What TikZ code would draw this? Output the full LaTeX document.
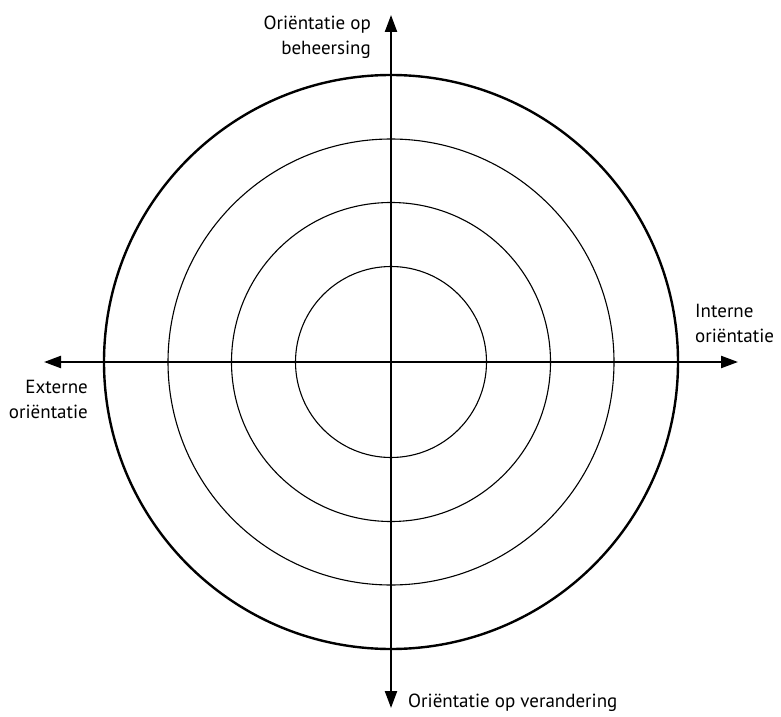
\documentclass[tikz,border=0pt]{standalone}
\usepackage{fontspec}
\setmainfont{PT Sans}
\usetikzlibrary{arrows.meta}
\begin{document}
\begin{tikzpicture}[x=1pt,y=1pt,
  ring/.style={line width=1.1pt},
  outer/.style={line width=2.4pt},
  axis/.style={line width=2.2pt,-{Triangle[length=17pt,width=12pt]}},
  lbl/.style={font=\fontsize{19}{25}\selectfont, inner sep=0pt}]
\useasboundingbox (0,0) rectangle (781,716);
\coordinate (c) at (391,354);
\draw[outer] (c) circle[radius=287];
\draw[ring] (c) circle[radius=223];
\draw[ring] (c) circle[radius=159.5];
\draw[ring] (c) circle[radius=95.5];
\coordinate (top) at (391,701);
\coordinate (bot) at (391,8);
\coordinate (lft) at (44,354);
\coordinate (rgt) at (738,354);
\draw[axis] (c) -- (top);
\draw[axis] (c) -- (bot);
\draw[axis] (c) -- (lft);
\draw[axis] (c) -- (rgt);
\node[lbl, align=right, anchor=base east] (tl) at (371,661) {Oriëntatie op\\beheersing};
\node[lbl, align=left, anchor=base west] (rl) at (695,374) {Interne\\oriëntatie};
\node[lbl, align=right, anchor=base east] (ll) at (88,298) {Externe\\oriëntatie};
\node[lbl, anchor=base west] (bl) at (408,9) {Oriëntatie op verandering};
\end{tikzpicture}
\end{document}
